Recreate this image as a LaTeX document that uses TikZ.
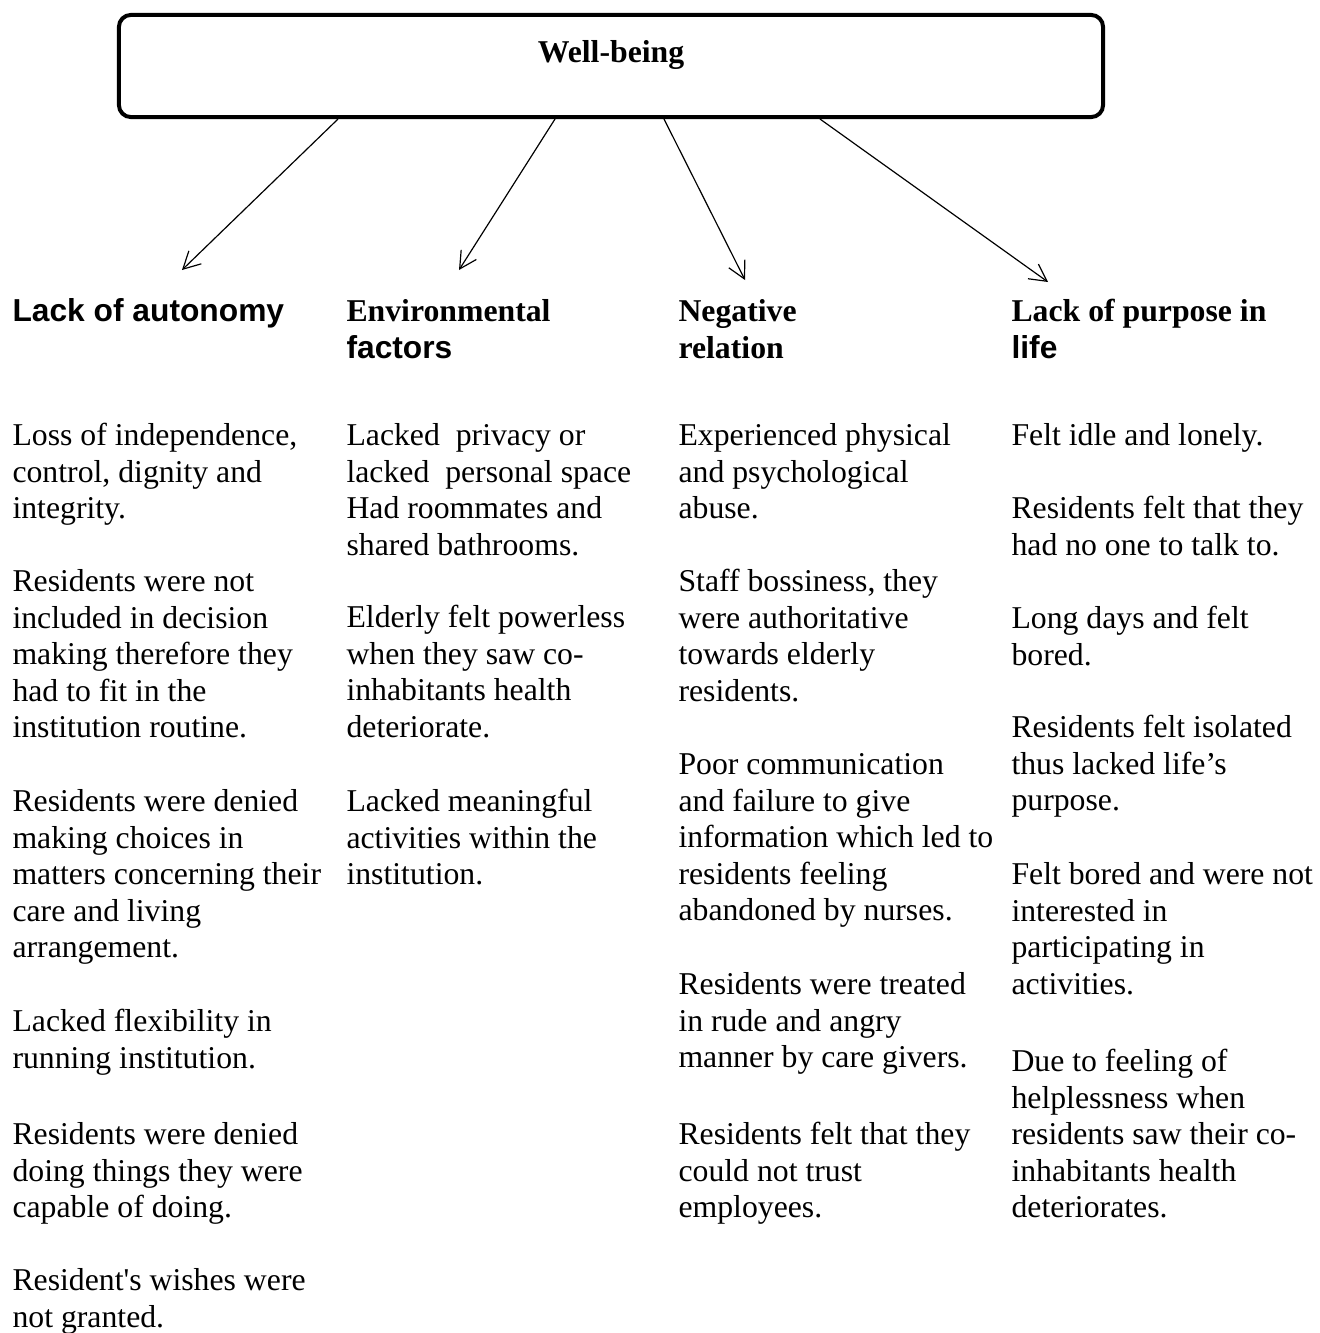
\documentclass[tikz,border=0pt]{standalone}
\usepackage{fontspec}
\setmainfont{Liberation Serif}
\setsansfont{Liberation Sans}
\usetikzlibrary{arrows.meta}

\begin{document}
\begin{tikzpicture}[x=0.378pt,y=-0.378pt,
    txt/.style={anchor=north west,yshift=9.68pt,align=left,inner sep=0pt,
      font=\fontsize{12}{13.83}\selectfont},
    head/.style={txt,font=\fontsize{12}{13.83}\selectfont\bfseries},
    link/.style={line width=0.45pt,-{Straight Barb[length=6.4pt,width=6.8pt]}}]
  \useasboundingbox (0,0) rectangle (1319,1333);
  \node[draw,line width=1.5pt,rounded corners=4.5pt,minimum width=372pt,minimum height=38.6pt,inner sep=0pt] (wb) at (611,66) {};
  \node[anchor=base,font=\fontsize{12}{13.83}\selectfont\bfseries] (wbtitle) at (611,62) {Well-being};
  \coordinate (tipAuto) at (182,270);
  \coordinate (tipEnv) at (459,270);
  \coordinate (tipRel) at (745,280);
  \coordinate (tipPurp) at (1048,282);
  \draw[link] (338,0 |- wb.south) -- (tipAuto);
  \draw[link] (555,0 |- wb.south) -- (tipEnv);
  \draw[link] (664,0 |- wb.south) -- (tipRel);
  \draw[link] (820,0 |- wb.south) -- (tipPurp);
  % headings
  \node[head,font=\fontsize{12}{13.83}\selectfont\sffamily\bfseries] (hAuto) at (12,321) {\strut Lack of autonomy};
  \node[head] (hEnv) at (346,321) {\strut Environmental\\\textsf{factors}};
  \node[head] (hRel) at (678,321) {\strut Negative\\relation};
  \node[head] (hPurp) at (1011,321) {\strut Lack of purpose in\\\textsf{life}};
  % lack of autonomy
  \node[txt] (aut1) at (12,445) {\strut Loss of independence,\\control, dignity and\\integrity.};
  \node[txt] (aut2) at (12,591) {\strut Residents were not\\included in decision\\making therefore they\\had to fit in the\\institution routine.};
  \node[txt] (aut3) at (12,811) {\strut Residents were denied\\making choices in\\matters concerning their\\care and living\\arrangement.};
  \node[txt] (aut4) at (12,1031) {\strut Lacked flexibility in\\running institution.};
  \node[txt] (aut5) at (12,1144) {\strut Residents were denied\\doing things they were\\capable of doing.};
  \node[txt] (aut6) at (12,1290) {\strut Resident\textquotesingle s wishes were\\not granted.};
  % environmental factors
  \node[txt] (env1) at (346,445) {\strut Lacked~ privacy or\\lacked~ personal space\\Had roommates and\\shared bathrooms.};
  \node[txt] (env2) at (346,627) {\strut Elderly felt powerless\\when they saw co-\\inhabitants health\\deteriorate.};
  \node[txt] (env3) at (346,811) {\strut Lacked meaningful\\activities within the\\institution.};
  % negative relation
  \node[txt] (rel1) at (678,445) {\strut Experienced physical\\and psychological\\abuse.};
  \node[txt] (rel2) at (678,591) {\strut Staff bossiness, they\\were authoritative\\towards elderly\\residents.};
  \node[txt] (rel3) at (678,774) {\strut Poor communication\\and failure to give\\information which led to\\residents feeling\\abandoned by nurses.};
  \node[txt] (rel4) at (678,994) {\strut Residents were treated\\in rude and angry\\manner by care givers.};
  \node[txt] (rel5) at (678,1144) {\strut Residents felt that they\\could not trust\\employees.};
  % lack of purpose
  \node[txt] (pur1) at (1011,445) {\strut Felt idle and lonely.};
  \node[txt] (pur2) at (1011,518) {\strut Residents felt that they\\had no one to talk to.};
  \node[txt] (pur3) at (1011,628) {\strut Long days and felt\\bored.};
  \node[txt] (pur4) at (1011,737) {\strut Residents felt isolated\\thus lacked life’s\\purpose.};
  \node[txt] (pur5) at (1011,884) {\strut Felt bored and were not\\interested in\\participating in\\activities.};
  \node[txt] (pur6) at (1011,1071) {\strut Due to feeling of\\helplessness when\\residents saw their co-\\inhabitants health\\deteriorates.};
\end{tikzpicture}
\end{document}
